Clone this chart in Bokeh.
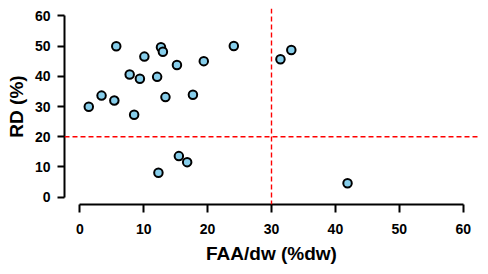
from bokeh.plotting import figure
from bokeh.models import Span, FixedTicker, Range1d, ColumnDataSource
from bokeh.embed import file_html
from bokeh.resources import INLINE

# Data
faa_dw = [1.4, 3.4, 5.4, 5.7, 7.8, 8.5, 9.4, 10.1, 12.1, 12.3, 12.7, 13.0,
          13.4, 15.2, 15.5, 16.8, 17.7, 19.4, 24.1, 31.4, 33.1, 41.9]
rd = [29.9, 33.6, 32.0, 49.9, 40.6, 27.3, 39.2, 46.5, 39.8, 8.1, 49.6, 48.1,
      33.1, 43.7, 13.6, 11.6, 33.9, 45.0, 50.0, 45.6, 48.7, 4.6]
x_ticks = [0, 10, 20, 30, 40, 50, 60]
y_ticks = [0, 10, 20, 30, 40, 50, 60]
x_threshold = 30
y_threshold = 20

FONT = "Liberation Sans"

p = figure(width=480, height=266, output_backend="svg", toolbar_location=None,
           x_range=Range1d(-2.4, 62.4), y_range=Range1d(-2.4, 62.4),
           min_border_left=64, min_border_right=2, min_border_top=8,
           min_border_bottom=62)
p.outline_line_color = None
p.xgrid.visible = False
p.ygrid.visible = False
p.background_fill_color = "white"
p.border_fill_color = "white"

src = ColumnDataSource(dict(x=faa_dw, y=rd))
p.scatter("x", "y", source=src, size=8.5, fill_color="#87CEEB",
          line_color="black", line_width=2)

p.add_layout(Span(location=x_threshold, dimension="height", line_color="red",
                  line_dash="5 3", line_width=1.4))
p.add_layout(Span(location=y_threshold, dimension="width", line_color="red",
                  line_dash="5 3", line_width=1.4))

for ax, ticks, out in ((p.xaxis[0], x_ticks, 8), (p.yaxis[0], y_ticks, 7)):
    ax.ticker = FixedTicker(ticks=ticks)
    ax.bounds = (ticks[0], ticks[-1])
    ax.minor_tick_line_color = None
    ax.major_tick_in = 0
    ax.major_tick_out = out
    ax.axis_line_width = 2
    ax.major_tick_line_width = 2
    ax.axis_line_color = "black"
    ax.major_tick_line_color = "black"
    ax.major_label_text_font = FONT
    ax.major_label_text_font_style = "bold"
    ax.major_label_text_font_size = "14px"
    ax.major_label_text_color = "black"
    ax.axis_label_text_font = FONT
    ax.axis_label_text_font_style = "bold"
    ax.axis_label_text_font_size = "19px"
    ax.axis_label_text_color = "black"

p.xaxis.axis_label = "FAA/dw (%dw)"
p.yaxis.axis_label = "RD (%)"
p.xaxis.major_label_standoff = 11
p.yaxis.major_label_standoff = 7
p.xaxis.axis_label_standoff = 6
p.yaxis.axis_label_standoff = 5

open("out.html", "w").write(file_html(p, INLINE))
